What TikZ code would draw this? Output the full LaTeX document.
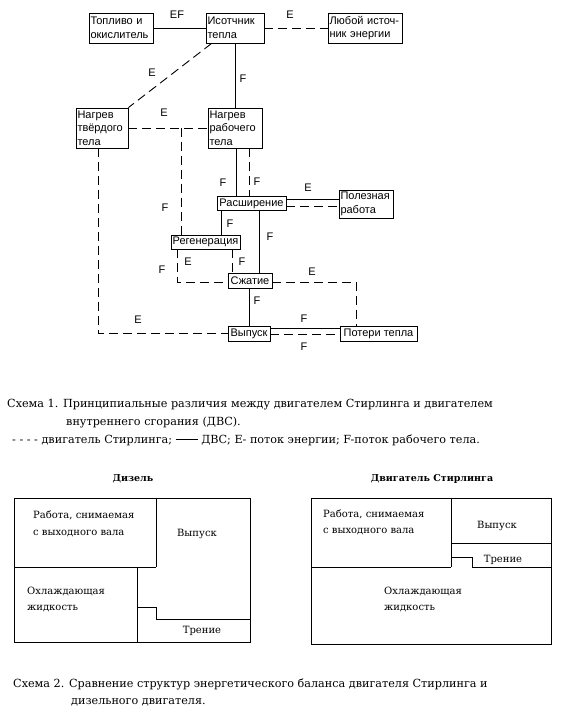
\documentclass[tikz,border=0pt]{standalone}
\usepackage{fontspec}
\setmainfont{Liberation Sans}
\newfontfamily\capserif{DejaVu Serif}
\usetikzlibrary{calc}
\begin{document}
\begin{tikzpicture}[x=1pt,y=-1pt,
  ln/.style={line width=0.9pt},
  dsh/.style={line width=0.9pt, dash pattern=on 9pt off 5pt},
  box/.style={draw, line width=0.9pt, rectangle, inner sep=1.5pt, font=\fontsize{11}{13.5}\selectfont},
  lbox/.style={box, align=left},
  sbox/.style={box, align=center, inner ysep=0pt},
  lab/.style={font=\fontsize{11}{12}\selectfont, inner sep=0pt},
  captxt/.style={font=\capserif\fontsize{11.2}{13}\selectfont, inner sep=0pt, anchor=base west},
  btxt/.style={font=\capserif\fontsize{10}{12}\selectfont, inner sep=0pt, anchor=base west},
  ctxt/.style={font=\capserif\fontsize{10}{12}\selectfont, inner sep=0pt, anchor=base},
  ttl/.style={font=\capserif\bfseries\fontsize{9.5}{12}\selectfont, inner sep=0pt, anchor=base},
  frame/.style={line width=0.9pt}]
\useasboundingbox (0,0) rectangle (576,719);
% ---------- Scheme 1 boxes ----------
\node[lbox, minimum width=64pt, minimum height=30pt, text width=61pt] (fuel) at (121,28) {Топливо и\\окислитель};
\node[lbox, minimum width=58pt, minimum height=30pt, text width=55pt] (heat) at (235,28) {Исотчник\\тепла};
\node[lbox, minimum width=74pt, minimum height=30pt, text width=71pt] (anysrc) at (365,28) {Любой источ-\\ник энергии};
\node[lbox, minimum width=52pt, minimum height=40pt, text width=49pt] (hsolid) at (102,128) {Нагрев\\твёрдого\\тела};
\node[lbox, minimum width=54pt, minimum height=40pt, text width=51pt] (hwork) at (235,128) {Нагрев\\рабочего\\тела};
\node[sbox, minimum width=69pt, minimum height=14pt] (expand) at (251.5,203.5) {Расширение};
\node[lbox, minimum width=54pt, minimum height=28pt, text width=51pt] (useful) at (366,204) {Полезная\\работа};
\node[sbox, minimum width=69pt, minimum height=14pt] (regen) at (205.5,242) {Регенерация};
\node[sbox, minimum width=44pt, minimum height=15pt] (compress) at (250,280.5) {Сжатие};
\node[sbox, minimum width=42pt, minimum height=15pt] (exhaust) at (249,333.5) {Выпуск};
\node[sbox, minimum width=77pt, minimum height=15pt] (losses) at (378.5,333.5) {Потери тепла};
% ---------- connectors ----------
\draw[ln] (fuel.east) -- (heat.west);
\draw[dsh] (heat.east) -- (anysrc.west);
\draw[ln] (heat.south) -- (hwork.north);
\draw[dsh] ([xshift=6pt]heat.south west) -- (hsolid.north east);
\draw[dsh] (hsolid.east) -- (hwork.west);
\coordinate (j1) at (181,128);
\draw[dsh] (j1) -- (j1 |- regen.north);
\draw[ln] ([xshift=1pt]hwork.south) -- ([xshift=1pt]hwork.south |- expand.north);
\draw[dsh] ([xshift=14pt]hwork.south) -- ([xshift=14pt]hwork.south |- expand.north);
\draw[ln] ([yshift=4.5pt]expand.east) -- ([yshift=4.5pt]expand.east -| useful.west);
\draw[dsh] ([yshift=-2.5pt]expand.east) -- ([yshift=-2.5pt]expand.east -| useful.west);
\draw[ln] ([xshift=-30.5pt]expand.south) -- ([xshift=-30.5pt]expand.south |- regen.north);
\draw[ln] ([xshift=7.5pt]expand.south) -- ([xshift=7.5pt]expand.south |- compress.north);
\draw[dsh] ([xshift=-28.5pt]regen.south) |- ([yshift=-1.5pt]compress.west);
\draw[dsh] ([xshift=26.5pt]regen.south) -- ([xshift=26.5pt]regen.south |- compress.north);
\draw[dsh] ([yshift=-1.5pt]compress.east) -| ([xshift=-22.5pt]losses.north);
\draw[ln] ([xshift=-1pt]compress.south) -- ([xshift=-1pt]compress.south |- exhaust.north);
\draw[ln] ([yshift=5.5pt]exhaust.east) -- ([yshift=5.5pt]exhaust.east -| losses.west);
\draw[dsh] ([yshift=-0.5pt]exhaust.east) -- ([yshift=-0.5pt]exhaust.east -| losses.west);
\draw[dsh] ([xshift=-3.5pt]hsolid.south) |- (exhaust.west);
% ---------- labels ----------
\node[lab] (l1) at (177,15) {EF};
\node[lab] (l2) at (290,15) {E};
\node[lab] (l3) at (243,79) {F};
\node[lab] (l4) at (152,73) {E};
\node[lab] (l5) at (164,113) {E};
\node[lab] (l6) at (165,208) {F};
\node[lab] (l7) at (223,183) {F};
\node[lab] (l8) at (257,182) {F};
\node[lab] (l9) at (308,188) {E};
\node[lab] (l10) at (230,224) {F};
\node[lab] (l11) at (270,237) {F};
\node[lab] (l12) at (188,262) {E};
\node[lab] (l13) at (242,262) {F};
\node[lab] (l14) at (162,270) {F};
\node[lab] (l15) at (312,272) {E};
\node[lab] (l16) at (257,301) {F};
\node[lab] (l17) at (304,319) {F};
\node[lab] (l18) at (304,347) {F};
\node[lab] (l19) at (138,320) {E};
% ---------- caption 1 ----------
\node[captxt] (c1a) at (7,407) {Схема 1. Принципиальные различия между двигателем Стирлинга и двигателем};
\node[captxt] (c1b) at (66,425) {внутреннего сгорания (ДВС).};
\node[captxt] (c1c) at (12,443) {- - - - двигатель Стирлинга; \rule[0.3em]{22pt}{0.6pt} ДВС; Е- поток энергии; F-поток рабочего тела.};
% ---------- Scheme 2: Diesel ----------
\node[ttl] (td) at (133,481) {Дизель};
\draw[frame] (14,498) rectangle (250,642);
\draw[frame] (14,567) -- (156,567);
\draw[frame] (156,498) -- (156,567);
\draw[frame] (137,567) -- (137,642);
\draw[frame] (137,607) -- (156,607) -- (156,619) -- (250,619);
\node[btxt] (d1) at (33,518) {Работа, снимаемая};
\node[btxt] (d2) at (33,535) {с выходного вала};
\node[ctxt] (d3) at (197,536) {Выпуск};
\node[btxt] (d4) at (27,594) {Охлаждающая};
\node[btxt] (d5) at (27,610) {жидкость};
\node[ctxt] (d6) at (202,633) {Трение};
% ---------- Scheme 2: Stirling ----------
\node[ttl] (ts) at (432,481) {Двигатель Стирлинга};
\draw[frame] (311,498) rectangle (551,644);
\draw[frame] (311,567) -- (451,567);
\draw[frame] (451,498) -- (451,567);
\draw[frame] (451,543) -- (551,543);
\draw[frame] (451,557) -- (472,557) -- (472,567) -- (551,567);
\node[btxt] (s1) at (323,517) {Работа, снимаемая};
\node[btxt] (s2) at (323,533) {с выходного вала};
\node[ctxt] (s3) at (497,528) {Выпуск};
\node[ctxt] (s4) at (503,562) {Трение};
\node[btxt] (s5) at (384,594) {Охлаждающая};
\node[btxt] (s6) at (384,610) {жидкость};
% ---------- caption 2 ----------
\node[captxt] (c2a) at (13,687) {Схема 2. Сравнение структур энергетического баланса двигателя Стирлинга и};
\node[captxt] (c2b) at (71,704) {дизельного двигателя.};
\end{tikzpicture}
\end{document}
